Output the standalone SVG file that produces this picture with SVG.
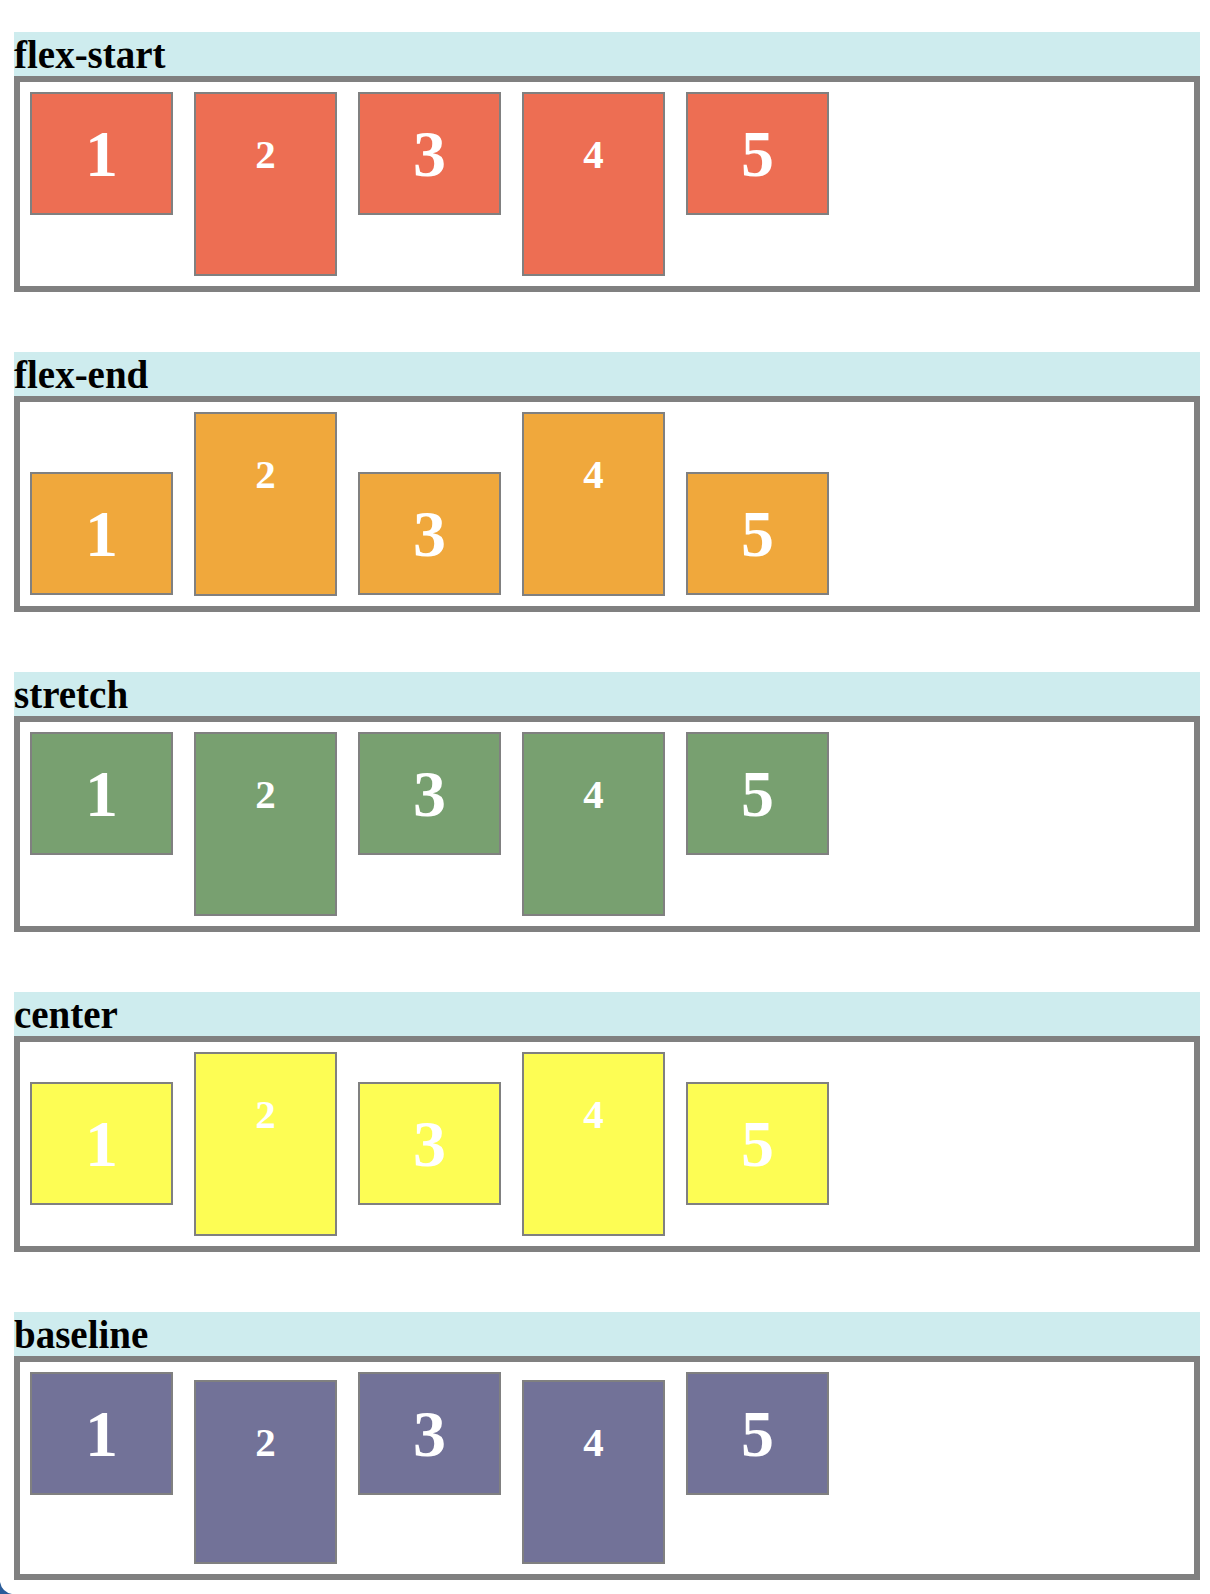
<svg xmlns="http://www.w3.org/2000/svg" width="1210" height="1594" viewBox="0 0 1210 1594">
<style>
.hd{fill:#CEECEE}
.ht{font-family:"Liberation Serif","Times New Roman",serif;font-weight:bold;font-size:39px;fill:#000}
.box{fill:#fff;stroke:#808080;stroke-width:6}
.it{stroke:#808080;stroke-width:2}
.big{font-family:"Liberation Serif","Times New Roman",serif;font-weight:bold;font-size:66px;fill:#fff;text-anchor:middle}
.sm{font-family:"Liberation Serif","Times New Roman",serif;font-weight:bold;font-size:41px;fill:#fff;text-anchor:middle}
.c1{fill:#ED6E53}.c2{fill:#F0A83C}.c3{fill:#78A070}.c4{fill:#FDFD54}.c5{fill:#727298}
</style>
<rect width="1210" height="1594" fill="#fff"/>

<g id="sec-flex-start">
<rect class="hd" x="14" y="32" width="1186" height="44"/>
<text class="ht" x="14" y="68">flex-start</text>
<rect class="box" x="17" y="79" width="1180" height="210"/>
<g id="fs-1"><rect class="it c1" x="31" y="93" width="141" height="121"/><text class="big" x="101.5" y="175.5">1</text></g>
<g id="fs-2"><rect class="it c1" x="195" y="93" width="141" height="182"/><text class="sm" x="265.5" y="167.5">2</text></g>
<g id="fs-3"><rect class="it c1" x="359" y="93" width="141" height="121"/><text class="big" x="429.5" y="175.5">3</text></g>
<g id="fs-4"><rect class="it c1" x="523" y="93" width="141" height="182"/><text class="sm" x="593.5" y="167.5">4</text></g>
<g id="fs-5"><rect class="it c1" x="687" y="93" width="141" height="121"/><text class="big" x="757.5" y="175.5">5</text></g>
</g>

<g id="sec-flex-end">
<rect class="hd" x="14" y="352" width="1186" height="44"/>
<text class="ht" x="14" y="388">flex-end</text>
<rect class="box" x="17" y="399" width="1180" height="210"/>
<g id="fe-1"><rect class="it c2" x="31" y="473" width="141" height="121"/><text class="big" x="101.5" y="555.5">1</text></g>
<g id="fe-2"><rect class="it c2" x="195" y="413" width="141" height="182"/><text class="sm" x="265.5" y="487.5">2</text></g>
<g id="fe-3"><rect class="it c2" x="359" y="473" width="141" height="121"/><text class="big" x="429.5" y="555.5">3</text></g>
<g id="fe-4"><rect class="it c2" x="523" y="413" width="141" height="182"/><text class="sm" x="593.5" y="487.5">4</text></g>
<g id="fe-5"><rect class="it c2" x="687" y="473" width="141" height="121"/><text class="big" x="757.5" y="555.5">5</text></g>
</g>

<g id="sec-stretch">
<rect class="hd" x="14" y="672" width="1186" height="44"/>
<text class="ht" x="14" y="708">stretch</text>
<rect class="box" x="17" y="719" width="1180" height="210"/>
<g id="st-1"><rect class="it c3" x="31" y="733" width="141" height="121"/><text class="big" x="101.5" y="815.5">1</text></g>
<g id="st-2"><rect class="it c3" x="195" y="733" width="141" height="182"/><text class="sm" x="265.5" y="807.5">2</text></g>
<g id="st-3"><rect class="it c3" x="359" y="733" width="141" height="121"/><text class="big" x="429.5" y="815.5">3</text></g>
<g id="st-4"><rect class="it c3" x="523" y="733" width="141" height="182"/><text class="sm" x="593.5" y="807.5">4</text></g>
<g id="st-5"><rect class="it c3" x="687" y="733" width="141" height="121"/><text class="big" x="757.5" y="815.5">5</text></g>
</g>

<g id="sec-center">
<rect class="hd" x="14" y="992" width="1186" height="44"/>
<text class="ht" x="14" y="1028">center</text>
<rect class="box" x="17" y="1039" width="1180" height="210"/>
<g id="ce-1"><rect class="it c4" x="31" y="1083" width="141" height="121"/><text class="big" x="101.5" y="1165.5">1</text></g>
<g id="ce-2"><rect class="it c4" x="195" y="1053" width="141" height="182"/><text class="sm" x="265.5" y="1127.5">2</text></g>
<g id="ce-3"><rect class="it c4" x="359" y="1083" width="141" height="121"/><text class="big" x="429.5" y="1165.5">3</text></g>
<g id="ce-4"><rect class="it c4" x="523" y="1053" width="141" height="182"/><text class="sm" x="593.5" y="1127.5">4</text></g>
<g id="ce-5"><rect class="it c4" x="687" y="1083" width="141" height="121"/><text class="big" x="757.5" y="1165.5">5</text></g>
</g>

<g id="sec-baseline">
<rect class="hd" x="14" y="1312" width="1186" height="44"/>
<text class="ht" x="14" y="1348">baseline</text>
<rect class="box" x="17" y="1359" width="1180" height="218"/>
<g id="bl-1"><rect class="it c5" x="31" y="1373" width="141" height="121"/><text class="big" x="101.5" y="1455.5">1</text></g>
<g id="bl-2"><rect class="it c5" x="195" y="1381" width="141" height="182"/><text class="sm" x="265.5" y="1455.5">2</text></g>
<g id="bl-3"><rect class="it c5" x="359" y="1373" width="141" height="121"/><text class="big" x="429.5" y="1455.5">3</text></g>
<g id="bl-4"><rect class="it c5" x="523" y="1381" width="141" height="182"/><text class="sm" x="593.5" y="1455.5">4</text></g>
<g id="bl-5"><rect class="it c5" x="687" y="1373" width="141" height="121"/><text class="big" x="757.5" y="1455.5">5</text></g>
</g>

<g id="connectors"></g>
<path d="M0,1582 Q2,1592 12,1594 L0,1594 Z" fill="#2B5C9A"/>
</svg>
